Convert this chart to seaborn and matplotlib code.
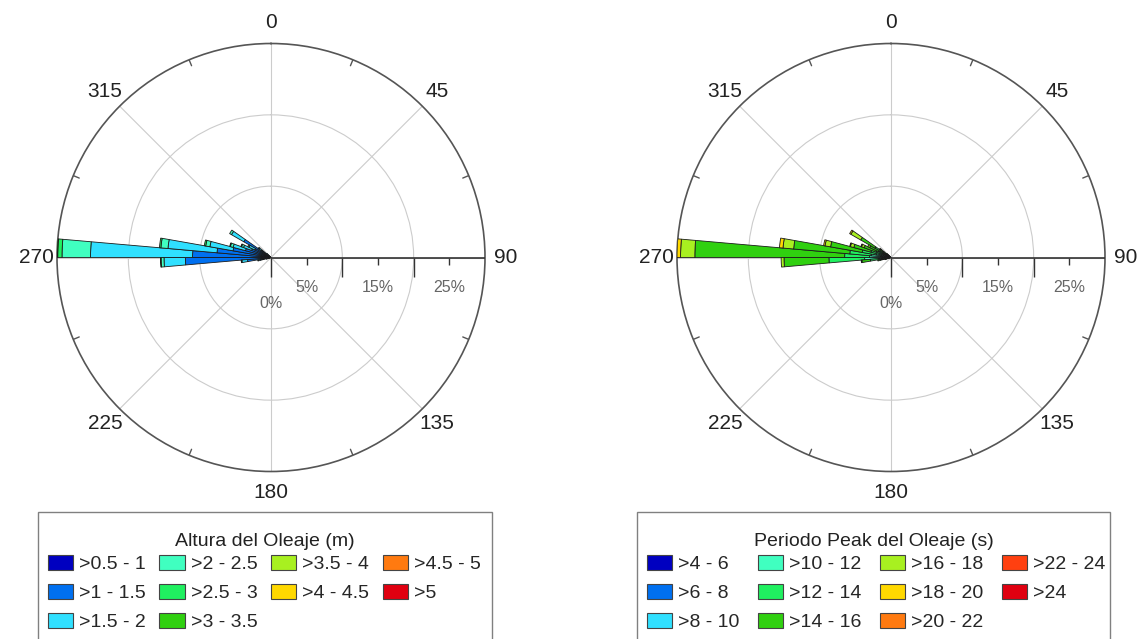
import numpy as np
import matplotlib
matplotlib.use("Agg")
import matplotlib.pyplot as plt
from matplotlib.patches import Patch, Rectangle
import seaborn as sns

# direction bins (deg, start of 5-degree sector)
directions = [250, 255, 260, 265, 270, 275, 280, 285, 290, 295, 300, 305, 310]

# Altura del oleaje (m) - % of occurrence per class and direction
hs_labels = [">0.5 - 1", ">1 - 1.5", ">1.5 - 2", ">2 - 2.5", ">2.5 - 3",
             ">3 - 3.5", ">3.5 - 4", ">4 - 4.5", ">4.5 - 5", ">5"]
hs_05_1 = [0.3, 0.6, 0.9, 1.4, 1.5, 1.4, 1.3, 1.1, 1.0, 0.9, 1.0, 0.6, 0.3]
hs_1_15 = [0.3, 0.9, 2.4, 10.6, 9.5, 6.2, 4.1, 2.6, 1.9, 1.6, 3.4, 1.0, 0.4]
hs_15_2 = [0.1, 0.3, 0.8, 3.0, 14.3, 6.9, 3.3, 1.8, 1.2, 0.9, 2.0, 0.5, 0.1]
hs_2_25 = [0.0, 0.1, 0.1, 0.4, 4.0, 1.0, 0.6, 0.4, 0.3, 0.2, 0.3, 0.1, 0.0]
hs_25_3 = [0.0, 0.0, 0.0, 0.1, 0.6, 0.2, 0.2, 0.1, 0.1, 0.0, 0.0, 0.0, 0.0]
hs_3_35 = [0.0, 0.0, 0.0, 0.0, 0.1, 0.0, 0.0, 0.0, 0.0, 0.0, 0.0, 0.0, 0.0]
hs_35_4 = [0.0] * 13
hs_4_45 = [0.0] * 13
hs_45_5 = [0.0] * 13
hs_gt5 = [0.0] * 13
hs_values = [hs_05_1, hs_1_15, hs_15_2, hs_2_25, hs_25_3,
             hs_3_35, hs_35_4, hs_4_45, hs_45_5, hs_gt5]

# Periodo peak del oleaje (s)
tp_labels = [">4 - 6", ">6 - 8", ">8 - 10", ">10 - 12", ">12 - 14", ">14 - 16",
             ">16 - 18", ">18 - 20", ">20 - 22", ">22 - 24", ">24"]
tp_4_6 = [0.0, 0.1, 0.1, 0.2, 0.2, 0.2, 0.2, 0.1, 0.1, 0.1, 0.1, 0.1, 0.0]
tp_6_8 = [0.1, 0.2, 0.3, 0.5, 0.4, 0.4, 0.3, 0.3, 0.2, 0.2, 0.2, 0.1, 0.1]
tp_8_10 = [0.1, 0.3, 0.5, 1.0, 0.9, 0.8, 0.6, 0.5, 0.4, 0.3, 0.4, 0.2, 0.1]
tp_10_12 = [0.2, 0.4, 0.8, 2.0, 1.5, 1.4, 1.0, 0.8, 0.6, 0.5, 0.7, 0.3, 0.2]
tp_12_14 = [0.3, 0.5, 1.2, 5.0, 3.5, 3.0, 2.0, 1.2, 0.9, 0.8, 1.2, 0.5, 0.2]
tp_14_16 = [0.2, 0.4, 1.2, 6.3, 21.0, 7.9, 4.5, 2.5, 1.8, 1.4, 2.3, 0.6, 0.2]
tp_16_18 = [0.0, 0.0, 0.1, 0.4, 2.0, 1.5, 0.8, 0.5, 0.4, 0.3, 1.6, 0.2, 0.0]
tp_18_20 = [0.0, 0.0, 0.0, 0.0, 0.5, 0.5, 0.2, 0.1, 0.1, 0.0, 0.2, 0.0, 0.0]
tp_20_22 = [0.0] * 13
tp_22_24 = [0.0] * 13
tp_gt24 = [0.0] * 13
tp_values = [tp_4_6, tp_6_8, tp_8_10, tp_10_12, tp_12_14, tp_14_16,
             tp_16_18, tp_18_20, tp_20_22, tp_22_24, tp_gt24]

dir_labels = ["0", "45", "90", "135", "180", "225", "270", "315"]

hs_colors = ["#0000c0", "#0070f0", "#30e0ff", "#40ffc0", "#20f060",
             "#30d010", "#a8f020", "#ffd800", "#ff7a10", "#e00010"]
tp_colors = ["#0000c0", "#0070f0", "#30e0ff", "#40ffc0", "#20f060", "#30d010",
             "#a8f020", "#ffd800", "#ff7a10", "#ff4010", "#e00010"]

sns.set_theme(style="white")
plt.rcParams["font.family"] = ["Liberation Sans", "DejaVu Sans"]

fig = plt.figure(figsize=(11.39, 6.39), dpi=100)
W, H = 1139, 639
R = 214
ax_l = fig.add_axes([(271 - R) / W, (H - 257.5 - R) / H, 2 * R / W, 2 * R / H], projection="polar")
ax_r = fig.add_axes([(891 - R) / W, (H - 257.5 - R) / H, 2 * R / W, 2 * R / H], projection="polar")


def draw_rose(ax, values, colors):
    theta = np.deg2rad(directions)
    base = np.zeros(len(directions))
    for vals, col in zip(values, colors):
        vals = np.asarray(vals, float)
        m = vals > 0
        if m.any():
            ax.bar(theta[m], vals[m], width=np.deg2rad(5), bottom=base[m], align="edge",
                   color=col, edgecolor="#1a1a1a", linewidth=0.6, zorder=3)
        base += vals

    ax.set_theta_zero_location("N")
    ax.set_theta_direction(-1)
    ax.set_ylim(0, 30)
    ax.set_yticks([10, 20])
    ax.set_yticklabels([])
    ax.set_thetagrids(np.arange(0, 360, 45), labels=dir_labels)
    ax.tick_params(axis="x", pad=2, labelsize=15, colors="#222222")
    ax.grid(True, color="#cccccc", linewidth=0.8)
    ax.spines["polar"].set_color("#555555")
    ax.spines["polar"].set_linewidth(1.2)

    # east axis with percentage ticks
    e = np.pi / 2
    ax.plot([e, e], [0, 30], color="#333333", lw=1.2, zorder=4)
    ax.plot([e] * 3, [0, 10, 20], ls="none", marker=3, ms=14, mew=1.0,
            color="#333333", zorder=4, clip_on=False)
    ax.plot([e] * 3, [5, 15, 25], ls="none", marker=3, ms=5, mew=1.0,
            color="#333333", zorder=4, clip_on=False)
    for r in [5, 15, 25]:
        ax.annotate(f"{r}%", xy=(e, r), xytext=(0, -30), textcoords="offset pixels",
                    ha="center", va="center", fontsize=11.5, color="#666666")
    ax.annotate("0%", xy=(e, 0), xytext=(0, -46), textcoords="offset pixels",
                ha="center", va="center", fontsize=11.5, color="#666666")

    # small ticks on outer circle
    for a in np.arange(22.5, 360, 45):
        ax.plot([np.deg2rad(a)] * 2, [29.1, 30], color="#555555", lw=1.0, zorder=4)


draw_rose(ax_l, hs_values, hs_colors)
draw_rose(ax_r, tp_values, tp_colors)


def add_legend(box_l, box_r, labels, colors, title, colsp):
    handles = [Patch(facecolor=c, edgecolor="#444444", linewidth=0.8) for c in colors]
    fig.legend(handles, labels, ncol=4, loc="upper left",
               bbox_to_anchor=((box_l + 10) / W, 1 - 555 / H), frameon=False,
               fontsize=14, handlelength=1.3, handleheight=0.8, handletextpad=0.3,
               columnspacing=colsp, labelspacing=0.55, borderpad=0, borderaxespad=0)
    fig.text((box_l + box_r) / 2 / W, 1 - 542 / H, title, ha="center", va="center",
             fontsize=14, color="#222222")
    fig.add_artist(Rectangle((box_l / W, -0.1), (box_r - box_l) / W, 0.1 + 1 - 512 / H,
                             transform=fig.transFigure, fill=False,
                             edgecolor="#808080", linewidth=1.0))


add_legend(38, 492, hs_labels, hs_colors, "Altura del Oleaje (m)", 0.7)
add_legend(637, 1110, tp_labels, tp_colors, "Periodo Peak del Oleaje (s)", 0.95)

fig.savefig("out.png", dpi=100, facecolor="white")
